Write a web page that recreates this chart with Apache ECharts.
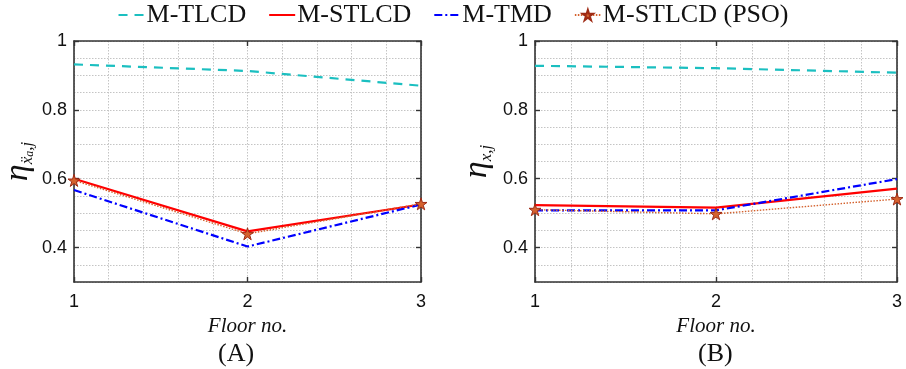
<!DOCTYPE html>
<html><head><meta charset="utf-8">
<script src="https://cdn.jsdelivr.net/npm/echarts@6/dist/echarts.min.js"></script>
<style>html,body{margin:0;padding:0;background:#fff}#c{width:906px;height:369px}</style>
</head><body><div id="c"></div>
<script>
const floors = [1, 2, 3];
const seriesNames = ['M-TLCD', 'M-STLCD', 'M-TMD', 'M-STLCD (PSO)'];
// Panel (A)
const tlcdA = [0.932, 0.913, 0.870];
const stlcdA = [0.600, 0.447, 0.525];
const tmdA = [0.567, 0.403, 0.525];
const psoA = [0.595, 0.440, 0.527];
// Panel (B)
const tlcdB = [0.928, 0.921, 0.908];
const stlcdB = [0.523, 0.516, 0.571];
const tmdB = [0.508, 0.508, 0.599];
const psoB = [0.510, 0.498, 0.541];
const yTicks = [0.4, 0.6, 0.8, 1];
const xTicks = [1, 2, 3];
const panelLabels = ['(A)', '(B)'];

const star = 'path://M100,0 L122.3,69.3 L195.1,69.1 L136.1,111.7 L158.8,180.9 L100,138 L41.2,180.9 L63.9,111.7 L4.9,69.1 L77.7,69.3 Z';
const serif = '"Liberation Serif", "DejaVu Serif", serif';
const sans = '"Liberation Sans", Arial, sans-serif';
const gridLine = {show: true, lineStyle: {color: '#c4c4c4', type: [1.5, 1.5], width: 1}};
const axisLineStyle = {show: true, onZero: false, lineStyle: {color: '#333', width: 1.6}};
const X = {min: 1, max: 3, step: 0.2};
const Y = {min: 0.3, max: 1, step: 0.05};

function xAxis(gi, pos) {
  const bottom = pos === 'bottom';
  return {
    type: 'value', gridIndex: gi, position: pos, min: X.min, max: X.max,
    axisLine: axisLineStyle,
    axisTick: {show: true, inside: true, length: 5, customValues: xTicks, lineStyle: {color: '#333', width: 1.4}},
    axisLabel: bottom ? {show: true, customValues: xTicks, margin: 11, fontFamily: sans, fontSize: 18, color: '#111'} : {show: false},
    splitLine: {show: false},
    name: bottom ? 'Floor no.' : '',
    nameLocation: 'middle', nameGap: 33,
    nameTextStyle: {fontFamily: serif, fontStyle: 'italic', fontSize: 21, color: '#111'}
  };
}
function xGrid(gi) {
  return {type: 'value', gridIndex: gi, position: 'bottom', min: X.min, max: X.max, interval: X.step,
    axisLine: {show: false}, axisTick: {show: false}, axisLabel: {show: false}, splitLine: gridLine, z: 0};
}
function yGrid(gi) {
  return {type: 'value', gridIndex: gi, position: 'left', min: Y.min, max: Y.max, interval: Y.step,
    axisLine: {show: false}, axisTick: {show: false}, axisLabel: {show: false}, splitLine: gridLine, z: 0};
}
function yAxis(gi, pos, rich, gap) {
  const left = pos === 'left';
  return {
    type: 'value', gridIndex: gi, position: pos, min: Y.min, max: Y.max,
    axisLine: axisLineStyle,
    axisTick: {show: true, inside: true, length: 5, customValues: yTicks, lineStyle: {color: '#333', width: 1.4}},
    axisLabel: left ? {show: true, customValues: yTicks, margin: 7, fontFamily: sans, fontSize: 18, color: '#111',
      formatter: v => (Math.abs(v - 1) < 1e-9 ? '1' : v.toFixed(1))} : {show: false},
    splitLine: {show: false},
    name: left ? rich : '',
    nameLocation: 'middle', nameRotate: 90, nameGap: gap,
    nameTextStyle: {
      fontFamily: serif, color: '#111',
      rich: {
        e: {fontFamily: serif, fontStyle: 'italic', fontSize: 34, color: '#111', lineHeight: 36},
        s: {fontFamily: serif, fontStyle: 'italic', fontSize: 17, color: '#111', verticalAlign: 'bottom', lineHeight: 24},
        ss: {fontFamily: serif, fontStyle: 'italic', fontSize: 12, color: '#111', verticalAlign: 'bottom', lineHeight: 19}
      }
    }
  };
}
function pairs(vals) { return floors.map((f, i) => [f, vals[i]]); }
function mk(gi, data) {
  const xi = gi * 3, yi = gi * 3;
  return [
    {name: seriesNames[0], type: 'line', xAxisIndex: xi, yAxisIndex: yi, data: pairs(data[0]), symbol: 'none',
      lineStyle: {color: '#1bbfc0', width: 2.2, type: [9, 7]}, itemStyle: {color: '#1bbfc0'}, z: 3},
    {name: seriesNames[1], type: 'line', xAxisIndex: xi, yAxisIndex: yi, data: pairs(data[1]), symbol: 'none',
      lineStyle: {color: '#ff0000', width: 2.2}, itemStyle: {color: '#ff0000'}, z: 4},
    {name: seriesNames[2], type: 'line', xAxisIndex: xi, yAxisIndex: yi, data: pairs(data[2]), symbol: 'none',
      lineStyle: {color: '#0000ff', width: 2.2, type: [8, 3, 2, 3]}, itemStyle: {color: '#0000ff'}, z: 5},
    {name: seriesNames[3], type: 'line', xAxisIndex: xi, yAxisIndex: yi, data: pairs(data[3]), symbol: star,
      symbolSize: 12, showSymbol: true,
      lineStyle: {color: '#d4622e', width: 1.4, type: [1.5, 1.5]},
      itemStyle: {color: '#d4622e', borderColor: '#9e2a14', borderWidth: 1}, z: 6}
  ];
}
const hidden = {color: 'rgba(0,0,0,0)', borderColor: 'rgba(0,0,0,0)', borderWidth: 0, opacity: 0};

const chart = echarts.init(document.getElementById('c'), null, {renderer: 'canvas'});
chart.setOption({
  animation: false,
  legend: {
    top: -3, left: 'center', itemGap: 22, itemWidth: 26, itemHeight: 13,
    textStyle: {fontFamily: serif, fontSize: 26, color: '#111', padding: [0, 0, 0, -3]},
    data: seriesNames.map((n, i) => i < 3 ? {name: n, itemStyle: hidden} : {name: n})
  },
  grid: [
    {left: 59, top: 41, width: 362, height: 241, show: true, borderWidth: 0},
    {left: 535, top: 41, width: 362, height: 241, show: true, borderWidth: 0}
  ],
  xAxis: [xAxis(0, 'bottom'), xAxis(0, 'top'), xGrid(0), xAxis(1, 'bottom'), xAxis(1, 'top'), xGrid(1)],
  yAxis: [
    yAxis(0, 'left', '{e|η}{s|ẍ}{ss|a}{s|,j}', 38), yAxis(0, 'right', '', 0), yGrid(0),
    yAxis(1, 'left', '{e|η}{s|x,j}', 40), yAxis(1, 'right', '', 0), yGrid(1)
  ],
  series: [].concat(mk(0, [tlcdA, stlcdA, tmdA, psoA]), mk(1, [tlcdB, stlcdB, tmdB, psoB])),
  graphic: [
    {type: 'text', left: 236 - 18, top: 341, style: {text: panelLabels[0], font: '26px ' + serif, fill: '#111'}},
    {type: 'text', left: 716 - 18, top: 341, style: {text: panelLabels[1], font: '26px ' + serif, fill: '#111'}}
  ]
});
</script></body></html>
